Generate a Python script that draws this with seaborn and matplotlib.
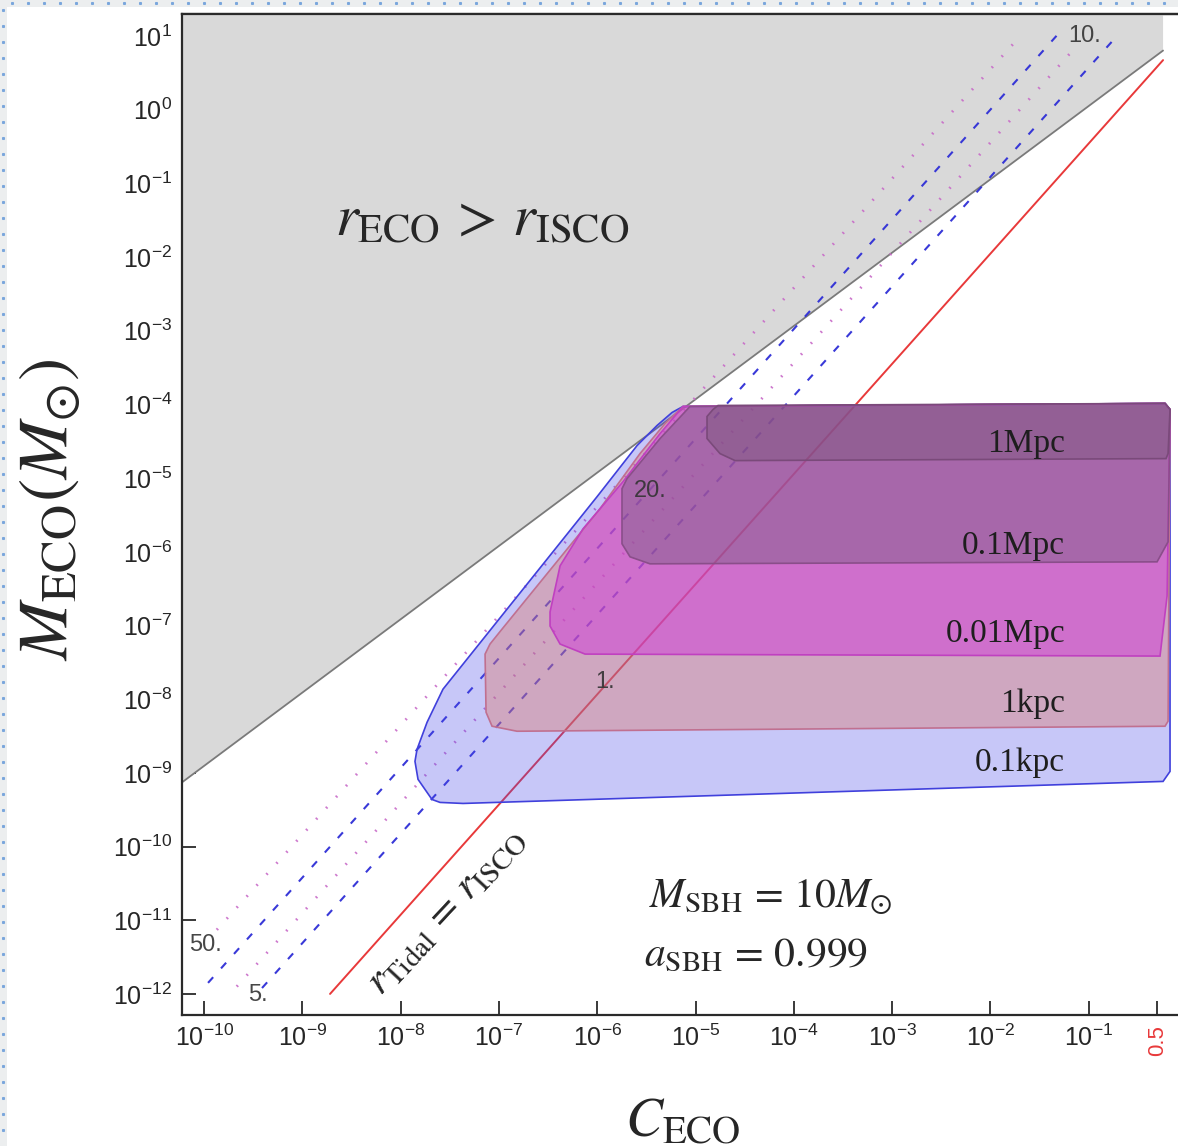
import numpy as np
import pandas as pd
import matplotlib
matplotlib.use("Agg")
import matplotlib.pyplot as plt
from matplotlib.lines import Line2D
from matplotlib.patches import Rectangle
from matplotlib.ticker import NullLocator, FixedLocator, NullFormatter
import seaborn as sns

# ---------------- axis ranges (log10) ----------------
logC_range = [-10.224, -0.092]
logM_range = [-12.286, 1.299]

x_tick_exponents = list(range(-10, 0))
y_tick_exponents = list(range(-12, 2))
x_extra_tick = 0.5
x_extra_label = "0.5"

# ---------------- r_ECO > r_ISCO boundary (log10 C, log10 M) ----------------
isco_boundary_logC = [-10.224, -0.244]
isco_boundary_logM = [-9.129, 0.803]

# ---------------- r_Tidal / r_ISCO contours ----------------
contour_labels = ["1.", "5.", "10.", "20.", "50."]
contour_styles = ["solid", "dashed", "dotted", "dashed", "dotted"]
contour_logC = [[-8.718, -0.244], [-9.41, -0.72], [-9.667, -1.18],
                [-9.959, -1.323], [-9.87, -1.76]]
contour_logM = [[-12.0, 0.673], [-11.92, 0.99], [-11.90, 0.78],
                [-11.85, 1.01], [-11.13, 0.905]]
contour_label_logC = [-5.921, -9.451, -1.038, -5.463, -9.990]
contour_label_logM = [-7.769, -12.014, 1.007, -5.170, -11.333]

# ---------------- detectable regions by distance ----------------
region_names = ["0.1kpc", "1kpc", "0.01Mpc", "0.1Mpc", "1Mpc"]

region_01kpc_logC = [-5.127, -0.224, -0.173, -0.173, -0.244, -7.365, -7.599, -7.681,
                     -7.823, -7.854, -7.833, -7.731, -7.569, -6.002, -5.595, -5.392, -5.239]
region_01kpc_logM = [-4.027, -3.986, -4.068, -8.980, -9.116, -9.415, -9.401, -9.361,
                     -9.088, -8.844, -8.680, -8.313, -7.864, -5.252, -4.558, -4.286, -4.109]

region_1kpc_logC = [-5.127, -0.224, -0.173, -0.193, -0.224, -6.816, -7.070, -7.131,
                    -7.141, -7.091, -6.968, -5.972, -5.565, -5.310]
region_1kpc_logM = [-4.027, -3.986, -4.068, -8.299, -8.367, -8.435, -8.367, -8.177,
                    -7.388, -7.252, -7.048, -5.415, -4.667, -4.259]

region_001Mpc_logC = [-5.127, -0.224, -0.173, -0.203, -0.275, -6.124, -6.378, -6.480,
                      -6.480, -6.378, -6.144, -5.738, -5.361]
region_001Mpc_logM = [-4.027, -3.986, -4.068, -6.599, -7.415, -7.388, -7.252, -7.007,
                      -6.816, -6.190, -5.687, -5.048, -4.395]

region_01Mpc_logC = [-5.056, -0.224, -0.173, -0.193, -0.305, -5.463, -5.666, -5.748,
                     -5.748, -5.697, -5.361]
region_01Mpc_logM = [-4.027, -3.986, -4.068, -5.864, -6.136, -6.163, -6.068, -5.891,
                     -5.143, -5.007, -4.463]

region_1Mpc_logC = [-4.771, -0.224, -0.173, -0.193, -0.214, -4.598, -4.751, -4.883,
                    -4.883, -4.822]
region_1Mpc_logM = [-4.014, -3.986, -4.068, -4.667, -4.735, -4.762, -4.667, -4.463,
                    -4.163, -4.068]

region_label_logC = [-1.241] * 5
region_label_logM = [-8.857, -8.068, -7.116, -5.918, -4.530]

# ---------------- styling ----------------
sns.set_style("ticks")
plt.rcParams["font.family"] = ["Liberation Sans", "DejaVu Sans"]
plt.rcParams["mathtext.fontset"] = "stix"
plt.rcParams["lines.scale_dashes"] = False

W, H = 1178, 1146
fig = plt.figure(figsize=(W / 100, H / 100), dpi=100)
fig.patch.set_facecolor("white")
ax = fig.add_axes([182 / W, 131 / H, 996 / W, 1001 / H])
ax.set_xscale("log")
ax.set_yscale("log")
xlim = (10 ** logC_range[0], 10 ** logC_range[1])
ylim = (10 ** logM_range[0], 10 ** logM_range[1])
ax.set_facecolor("white")

# forbidden region r_ECO > r_ISCO
bC = 10 ** np.array(isco_boundary_logC)
bM = 10 ** np.array(isco_boundary_logM)
ax.fill([xlim[0], bC[0], bC[1], bC[1], xlim[0]],
        [bM[0], bM[0], bM[1], ylim[1] * 2, ylim[1] * 2],
        color="#d9d9d9", lw=0, zorder=1)
sns.lineplot(x=bC, y=bM, ax=ax, color="#7a7a7a", lw=1.3, zorder=2,
             estimator=None, sort=False)

# contour lines
style_map = {
    "solid": dict(color="#e8393a", linestyle="solid", lw=1.4, alpha=1.0),
    "dashed": dict(color="#2e2ed6", linestyle=(0, (5.5, 8.5)), lw=1.5, alpha=0.95),
    "dotted": dict(color="#c86ac8", linestyle=(0, (1.2, 9.5)), lw=2.0, alpha=0.9),
}
for lc, lm, st in zip(contour_logC, contour_logM, contour_styles):
    df = pd.DataFrame({"C": 10 ** np.array(lc), "M": 10 ** np.array(lm)})
    sns.lineplot(data=df, x="C", y="M", ax=ax, estimator=None, sort=False,
                 zorder=3, **style_map[st])

for lab, lc, lm in zip(contour_labels, contour_label_logC, contour_label_logM):
    ax.text(10 ** lc, 10 ** lm, lab, fontsize=17, color="#333333", alpha=0.9,
            ha="center", va="center", zorder=5.5)

# nested detectable regions
region_logC = [region_01kpc_logC, region_1kpc_logC, region_001Mpc_logC,
               region_01Mpc_logC, region_1Mpc_logC]
region_logM = [region_01kpc_logM, region_1kpc_logM, region_001Mpc_logM,
               region_01Mpc_logM, region_1Mpc_logM]
fill_colors = [(72, 72, 232), (220, 120, 108), (208, 56, 216), (108, 92, 119), (101, 77, 103)]
fill_alphas = [0.30, 0.40, 0.50, 0.40, 0.30]
edge_colors = ["#4040dc", "#c07090", "#c040c0", "#8a4e8a", "#7a4a7a"]
for lc, lm, fc, fa, ec in zip(region_logC, region_logM, fill_colors, fill_alphas, edge_colors):
    cx = 10 ** np.array(lc)
    my = 10 ** np.array(lm)
    ax.fill(cx, my, color=np.array(fc) / 255, alpha=fa, lw=0, zorder=4)
    ax.fill(cx, my, facecolor="none", edgecolor=ec, lw=1.2, zorder=5)

for name, lc, lm in zip(region_names, region_label_logC, region_label_logM):
    ax.text(10 ** lc, 10 ** lm, name, fontsize=24, family="Liberation Serif",
            color="#1e1e1e", ha="right", va="center", zorder=6)

# annotations
ax.text(10 ** -7.172, 10 ** -1.50, r"$r_{\rm ECO}\,>\,r_{\rm ISCO}$", fontsize=42,
        ha="center", va="center", zorder=6)
ax.text(10 ** -5.47, 10 ** -10.68, r"$M_{\rm SBH}\,=\,10M_{\odot}$", fontsize=30,
        ha="left", va="center", zorder=6)
ax.text(10 ** -5.52, 10 ** -11.47, r"$a_{\rm SBH}\,=\,0.999$", fontsize=30,
        ha="left", va="center", zorder=6)
ax.text(10 ** -7.548, 10 ** -10.857, r"$r_{\rm Tidal}\,=\,r_{\rm ISCO}$", fontsize=30,
        rotation=47, ha="center", va="center", rotation_mode="anchor", zorder=6)

# axes frame and ticks
ax.set_xlim(*xlim)
ax.set_ylim(*ylim)
ax.set_xlabel("")
ax.set_ylabel("")
for side in ["left", "bottom", "top"]:
    ax.spines[side].set_color("#2a2a2a")
    ax.spines[side].set_linewidth(1.6)
ax.spines["right"].set_visible(False)
ax.spines["top"].set_zorder(7)

xt = [10.0 ** e for e in x_tick_exponents] + [x_extra_tick]
xl = [r"$\mathdefault{10^{%d}}$" % e for e in x_tick_exponents] + [x_extra_label]
ax.set_xticks(xt)
ax.set_xticklabels(xl)
ax.set_yticks([10.0 ** e for e in y_tick_exponents])
ax.set_yticklabels([r"$\mathdefault{10^{%d}}$" % e for e in y_tick_exponents])
ax.xaxis.set_minor_locator(NullLocator())
ax.yaxis.set_minor_locator(NullLocator())
ax.tick_params(which="major", direction="in", length=10, width=1.3, color="#2a2a2a",
               labelsize=18, pad=7, top=False, right=False)
last = ax.get_xticklabels()[-1]
last.set_color("#e8393a")
last.set_rotation(90)
last.set_fontsize(16)
last.set_va("top")

# top frame ticks
sec = ax.secondary_xaxis("top")
top_k = np.arange(0, 23)
top_pos = 10 ** (-9.98 + 0.4361 * top_k)
sec.xaxis.set_major_locator(FixedLocator(top_pos[3::5]))
sec.xaxis.set_minor_locator(FixedLocator(np.delete(top_pos, np.arange(3, 23, 5))))
sec.xaxis.set_major_formatter(NullFormatter())
sec.xaxis.set_minor_formatter(NullFormatter())
sec.tick_params(which="major", direction="in", length=10, width=1.3, color="#2a2a2a")
sec.tick_params(which="minor", direction="in", length=6, width=1.3, color="#2a2a2a")
sec.spines["top"].set_color("#2a2a2a")
sec.spines["top"].set_linewidth(1.6)

# axis titles
fig.text(50 / W, 1 - 510 / H, r"$M_{\rm ECO}(M_{\odot})$", fontsize=50, rotation=90,
         ha="center", va="center")
fig.text(683 / W, 1 - 1122 / H, r"$C_{\rm ECO}$", fontsize=40, ha="center", va="center")

# window border strips
fig.add_artist(Rectangle((0, 1 - 7 / H), 1, 7 / H, transform=fig.transFigure,
                         color="#eceeef", lw=0, zorder=0))
fig.add_artist(Rectangle((0, 0), 7 / W, 1, transform=fig.transFigure,
                         color="#eceeef", lw=0, zorder=0))
dots_x = np.arange(12, W, 16) / W
fig.add_artist(Line2D(dots_x, np.full_like(dots_x, 1 - 2.5 / H), transform=fig.transFigure,
                      ls="none", marker="s", ms=1.2, color="#7aa6dc"))
dots_y = 1 - np.arange(10, H, 16) / H
fig.add_artist(Line2D(np.full_like(dots_y, 3 / W), dots_y, transform=fig.transFigure,
                      ls="none", marker="s", ms=1.2, color="#7aa6dc"))

fig.savefig("out.png", dpi=100)
